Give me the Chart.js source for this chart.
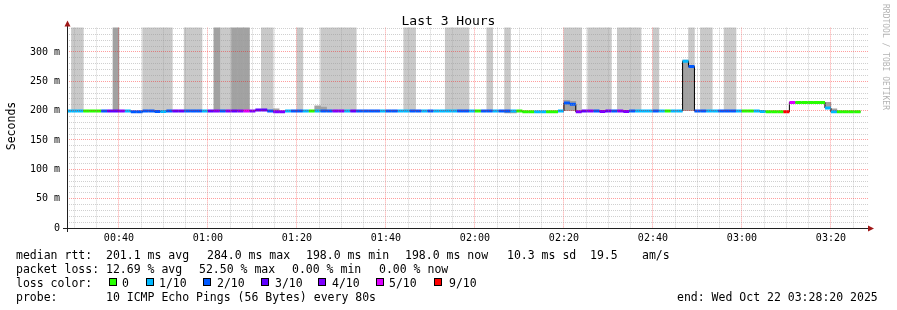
<!DOCTYPE html>
<html>
<head>
<meta charset="utf-8">
<script src="https://cdn.jsdelivr.net/npm/chart.js@4.4.1/dist/chart.umd.min.js"></script>
<style>
  body { margin: 0; background: #fff; }
  #caja { position: relative; width: 897px; height: 310px; overflow: hidden;
          font-family: 'DejaVu Sans Mono', monospace; color: #000; }
  #grafica { position: absolute; left: 0; top: 0; }
  .txt { position: absolute; white-space: pre; font-size: 11.5px; line-height: 14px; }
  .cuadro { position: absolute; width: 6px; height: 6px; border: 1px solid #000; }
  #titulo { position: absolute; left: 0; top: 12.5px; width: 897px; text-align: center;
            font-size: 13px; line-height: 16px; }
  #ejeY { position: absolute; left: -29px; top: 119px; width: 80px; text-align: center;
          font-size: 11.5px; line-height: 14px; transform: rotate(-90deg); }
  #marca { position: absolute; left: 881px; top: 4px; writing-mode: vertical-rl;
           font-size: 8px; line-height: 9px; color: #b4b4b4; white-space: pre; }
</style>
</head>
<body>
<div id="caja">
  <canvas id="grafica" width="897" height="310"></canvas>
  <div id="titulo">Last 3 Hours</div>
  <div id="ejeY">Seconds</div>
  <div id="marca">RRDTOOL / TOBI OETIKER</div>
</div>
<script>
// tiempo en minutos desde las 00:00, cada paso de smokeping son 80 s
var inicio = 28 + 20 / 60;   // 00:28:20
var fin = 208 + 20 / 60;     // 03:28:20
var primerPaso = 28;         // 00:28:00
var paso = 80 / 60;

var ticksX = [40, 60, 80, 100, 120, 140, 160, 180, 200];
var etiquetasX = ["00:40", "01:00", "01:20", "01:40", "02:00", "02:20", "02:40", "03:00", "03:20"];
var ticksY = [0, 50, 100, 150, 200, 250, 300];
var etiquetasY = ["0", "50 m", "100 m", "150 m", "200 m", "250 m", "300 m"];

// mediana rtt por paso (ms)
var mediana = [
  199.5, 199.5, 199.5, 199.5, 199.5, 199.5, 199.5, 199.5, 199.5, 199.5,
  199.5, 198, 198, 199.5, 199.5, 198.5, 198.5, 199.5, 199.5, 199.5,
  199.5, 199.5, 199.5, 199.5, 199.5, 199.5, 199.5, 199.5, 199.5, 199.5,
  199.5, 199.5, 201, 201, 199.5, 198, 198, 199.5, 199.5, 199.5,
  199.5, 199.5, 199.5, 199.5, 199.5, 199.5, 199.5, 199.5, 199.5, 199.5,
  199.5, 199.5, 199.5, 199.5, 199.5, 199.5, 199.5, 199.5, 199.5, 199.5,
  199.5, 199.5, 199.5, 199.5, 199.5, 199.5, 199.5, 199.5, 199.5, 199.5,
  199.5, 199.5, 199.5, 199.5, 199.5, 199.5, 199.5, 198, 198, 198,
  198, 198, 198, 199.5, 213, 211, 198, 199.5, 199.5, 199.5,
  198.5, 199.5, 199.5, 199.5, 198.5, 199.5, 199.5, 199.5, 199.5, 199.5,
  199.5, 199.5, 199.5, 199.5, 284, 275, 199.5, 199.5, 199.5, 199.5,
  199.5, 199.5, 199.5, 199.5, 199.5, 199.5, 199.5, 198.5, 198, 198,
  198, 198, 214, 214, 214, 214, 214, 214, 204.5, 198,
  198, 198, 198, 198
];

// pings perdidos (de 10) por paso
var perdidos = [
  1, 1, 1, 0, 0, 0, 2, 3, 3, 4,
  1, 2, 2, 2, 2, 2, 1, 2, 3, 3,
  2, 2, 2, 1, 3, 4, 2, 4, 3, 4,
  5, 4, 3, 3, 2, 4, 4, 1, 2, 2,
  1, 0, 1, 2, 2, 4, 4, 1, 3, 2,
  2, 2, 2, 1, 2, 2, 1, 1, 2, 2,
  1, 2, 1, 1, 1, 1, 2, 2, 1, 0,
  2, 2, 1, 2, 2, 1, 0, 0, 0, 1,
  1, 0, 0, 1, 2, 2, 4, 3, 4, 2,
  4, 3, 2, 4, 4, 2, 1, 1, 1, 2,
  1, 0, 1, 1, 1, 2, 2, 2, 1, 1,
  2, 2, 2, 1, 0, 0, 1, 1, 0, 0,
  0, 9, 5, 0, 0, 0, 0, 0, 1, 1,
  0, 0, 0, 0
];

// humo claro: pasos con algun ping por encima del grafico
var pasosClaro = [1, 2, 13, 14, 15, 16, 17, 20, 21, 22, 26, 27, 33, 34, 39, 43, 44, 45, 46, 47, 48,
  57, 58, 64, 65, 66, 67, 71, 74, 84, 85, 86, 88, 89, 90, 91, 93, 94, 95, 96, 99, 105, 107, 108, 111, 112];
var humoArriba = 400;

// humo oscuro
var pasosOscuro = [8, 25, 28, 29, 30, 35, 42, 43, 74, 75, 84, 85, 104, 105, 128, 129];
var oscuroBajo = [200, 200, 200, 200, 200, 199, 199, 199, 196, 196, 200, 200, 200, 200, 206, 198];
var oscuroAlto = [400, 400, 400, 400, 400, 203, 208, 206, 199, 199, 217.5, 216, 286, 276, 214, 203];

var umbrales = [0, 1, 2, 3, 4, 5, 9];
var nombresPerdida = ["0", "1/10", "2/10", "3/10", "4/10", "5/10", "9/10"];
var coloresPerdida = ["#26ff00", "#00b8ff", "#0059ff", "#5e00ff", "#7e00ff", "#dd00ff", "#ff0000"];

// rejilla: cada 5 min y cada 10 ms
var rejillaX = [];
for (var m = 30; m < fin; m += 5) rejillaX.push(m);
var rejillaY = [];
for (var r = 0; r <= 340; r += 10) rejillaY.push(r);

function colorPerdida(n) {
  var c = coloresPerdida[0];
  for (var k = 0; k < umbrales.length; k++) {
    if (n >= umbrales[k]) c = coloresPerdida[k];
  }
  return c;
}

function inicioPaso(i) {
  return primerPaso + i * paso;
}

function buscar(lista, v) {
  for (var k = 0; k < lista.length; k++) {
    if (Math.abs(lista[k] - v) < 1e-6) return k;
  }
  return -1;
}

var claro = pasosClaro.map(function (i) {
  return { x: inicioPaso(i) + paso / 2, y: [mediana[i], humoArriba] };
});
var oscuro = pasosOscuro.map(function (i, k) {
  return { x: inicioPaso(i) + paso / 2, y: [oscuroBajo[k], oscuroAlto[k]] };
});

var escalon = mediana.map(function (m, i) { return { x: inicioPaso(i), y: m }; });
escalon.push({ x: inicioPaso(mediana.length), y: mediana[mediana.length - 1] });

var tramos = [];
mediana.forEach(function (m, i) {
  tramos.push({ x: inicioPaso(i), y: m });
  tramos.push({ x: inicioPaso(i + 1), y: m });
  tramos.push({ x: inicioPaso(i + 1), y: null });
});

var mayor = "rgba(255,0,0,0.38)";
var menor = "rgba(150,150,150,0.45)";

// ejes con flechas como en rrdtool
var ejes = {
  id: "ejes",
  afterDraw: function (chart) {
    var a = chart.chartArea;
    var c = chart.ctx;
    var x0 = Math.round(a.left) + 0.5;
    var y0 = Math.round(a.bottom) + 0.5;
    c.save();
    c.strokeStyle = "#202020";
    c.lineWidth = 1;
    c.beginPath();
    c.moveTo(a.left - 4, y0);
    c.lineTo(a.right + 3, y0);
    c.moveTo(x0, a.bottom + 4);
    c.lineTo(x0, a.top - 3);
    c.stroke();
    c.fillStyle = "#a01818";
    c.beginPath();
    c.moveTo(x0 - 3, a.top - 1);
    c.lineTo(x0 + 3, a.top - 1);
    c.lineTo(x0, a.top - 7);
    c.closePath();
    c.fill();
    c.beginPath();
    c.moveTo(a.right, y0 - 3);
    c.lineTo(a.right, y0 + 3);
    c.lineTo(a.right + 6, y0);
    c.closePath();
    c.fill();
    c.restore();
  }
};

Chart.defaults.font.family = "'DejaVu Sans Mono', monospace";

new Chart(document.getElementById("grafica"), {
  type: "bar",
  data: {
    datasets: [
      {
        type: "line",
        data: tramos,
        borderWidth: 3,
        borderColor: coloresPerdida[1],
        borderCapStyle: "butt",
        pointRadius: 0,
        segment: {
          borderColor: function (ctx) {
            return colorPerdida(perdidos[Math.floor(ctx.p0DataIndex / 3)]);
          }
        },
        order: 1
      },
      {
        type: "line",
        data: escalon,
        stepped: "before",
        borderWidth: 1,
        borderColor: "#000",
        pointRadius: 0,
        order: 2
      },
      {
        data: oscuro,
        backgroundColor: "#a2a2a2",
        grouped: false,
        barPercentage: 1,
        categoryPercentage: 1,
        order: 3
      },
      {
        data: claro,
        backgroundColor: "#c9c9c9",
        grouped: false,
        barPercentage: 1,
        categoryPercentage: 1,
        order: 4
      }
    ]
  },
  options: {
    responsive: false,
    animation: false,
    events: [],
    layout: { padding: { top: 27.6, right: 29, left: 0, bottom: 0 } },
    plugins: {
      legend: { display: false },
      tooltip: { enabled: false },
      title: { display: false }
    },
    scales: {
      x: {
        type: "linear",
        min: inicio,
        max: fin,
        offset: false,
        afterFit: function (s) { s.height = 82; },
        afterBuildTicks: function (s) {
          s.ticks = rejillaX.map(function (v) { return { value: v }; });
        },
        ticks: {
          autoSkip: false,
          maxRotation: 0,
          padding: 4,
          color: "#000",
          font: { size: 10 },
          callback: function (v) {
            var k = buscar(ticksX, v);
            return k >= 0 ? etiquetasX[k] : "";
          }
        },
        grid: {
          color: function (ctx) {
            return ctx.tick && buscar(ticksX, ctx.tick.value) >= 0 ? mayor : menor;
          },
          drawTicks: false,
          offset: false,
          z: 1
        },
        border: { display: false, dash: [1, 1] }
      },
      y: {
        min: 0,
        max: 341.5,
        afterFit: function (s) { s.width = 67; },
        afterBuildTicks: function (s) {
          s.ticks = rejillaY.map(function (v) { return { value: v }; });
        },
        ticks: {
          autoSkip: false,
          padding: 7,
          color: "#000",
          font: { size: 10 },
          callback: function (v) {
            var k = buscar(ticksY, v);
            return k >= 0 ? etiquetasY[k] : "";
          }
        },
        grid: {
          color: function (ctx) {
            return ctx.tick && buscar(ticksY, ctx.tick.value) >= 0 ? mayor : menor;
          },
          drawTicks: false,
          z: 1
        },
        border: { display: false, dash: [1, 1] }
      }
    }
  },
  plugins: [ejes]
});

// leyenda de smokeping
var caja = document.getElementById("caja");
function texto(x, y, s) {
  var d = document.createElement("div");
  d.className = "txt";
  d.style.left = x + "px";
  d.style.top = y + "px";
  d.textContent = s;
  caja.appendChild(d);
}

texto(16, 248, "median rtt:");
texto(106, 248, "201.1 ms avg");
texto(207, 248, "284.0 ms max");
texto(306, 248, "198.0 ms min");
texto(405, 248, "198.0 ms now");
texto(507, 248, "10.3 ms sd");
texto(590, 248, "19.5");
texto(642, 248, "am/s");

texto(16, 262, "packet loss:");
texto(106, 262, "12.69 % avg");
texto(199, 262, "52.50 % max");
texto(292, 262, "0.00 % min");
texto(379, 262, "0.00 % now");

texto(16, 276, "loss color:");
var cuadroX = [109, 146, 203, 261, 318, 376, 434];
var nombreX = [122, 159, 217, 275, 332, 389, 449];
nombresPerdida.forEach(function (n, k) {
  var b = document.createElement("div");
  b.className = "cuadro";
  b.style.left = cuadroX[k] + "px";
  b.style.top = "278px";
  b.style.background = coloresPerdida[k];
  caja.appendChild(b);
  texto(nombreX[k], 276, n);
});

texto(16, 290, "probe:");
texto(106, 290, "10 ICMP Echo Pings (56 Bytes) every 80s");
texto(677, 290, "end: Wed Oct 22 03:28:20 2025");
</script>
</body>
</html>
